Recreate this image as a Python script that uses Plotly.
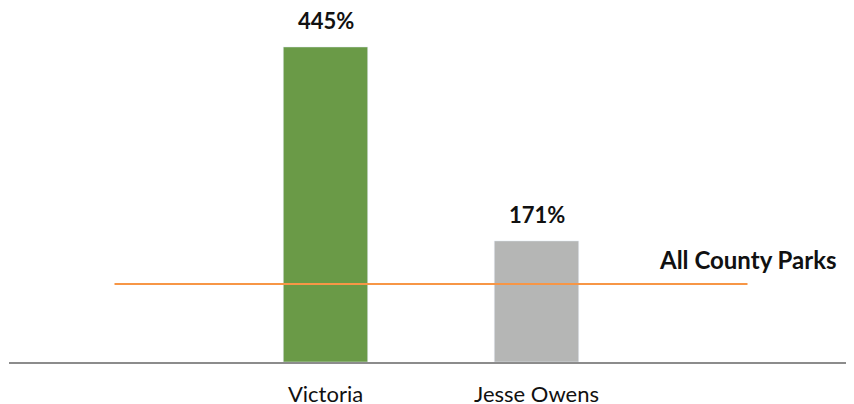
import plotly.graph_objects as go

GREEN = '#6A9A47'; GRAY = '#B5B6B5'; ORANGE = '#F79646'; AXIS = '#8C8C8C'

parks = ['Victoria', 'Jesse Owens']
pct = [445, 171]
bar_colors = [GREEN, GRAY]
county_label = 'All County Parks'
county_pct = 110

# Excel-style layout: two blank slots either side of the two parks
pos = [1, 2]
line_x = [0, 1, 2, 3]

fig = go.Figure()
fig.add_trace(go.Bar(
    x=pos, y=pct, width=0.4, marker_color=bar_colors,
    hoverinfo='skip', showlegend=False,
))
fig.add_trace(go.Scatter(
    x=line_x, y=[county_pct] * len(line_x), mode='lines',
    line=dict(color=ORANGE, width=2), hoverinfo='skip', showlegend=False,
))

for x, v in zip(pos, pct):
    fig.add_annotation(x=x, y=v, text=f'<b>{v}%</b>', showarrow=False,
                       yanchor='bottom', yshift=11, font=dict(size=22, color='#111'))
fig.add_annotation(x=line_x[-1], y=county_pct, text=f'<b>{county_label}</b>', showarrow=False,
                   yanchor='bottom', yshift=8, font=dict(size=24, color='#111'))

# page body has an 8px margin, so the figure is shrunk by that much
fig.update_layout(
    width=846, height=396,
    plot_bgcolor='white', paper_bgcolor='white',
    font=dict(family='Lato, Open Sans, sans-serif', size=18, color='#111'),
    margin=dict(l=1, r=1, t=0, b=42, autoexpand=False),
    xaxis=dict(range=[-0.5, 3.5], tickvals=pos, ticktext=parks, showgrid=False, zeroline=False,
               showline=True, linecolor=AXIS, linewidth=2, automargin=False,
               ticks='outside', ticklen=12, tickcolor='rgba(0,0,0,0)',
               tickfont=dict(size=22, color='#111')),
    yaxis=dict(range=[0, 500], visible=False, showgrid=False, zeroline=False),
)

fig.write_html('out.html')
